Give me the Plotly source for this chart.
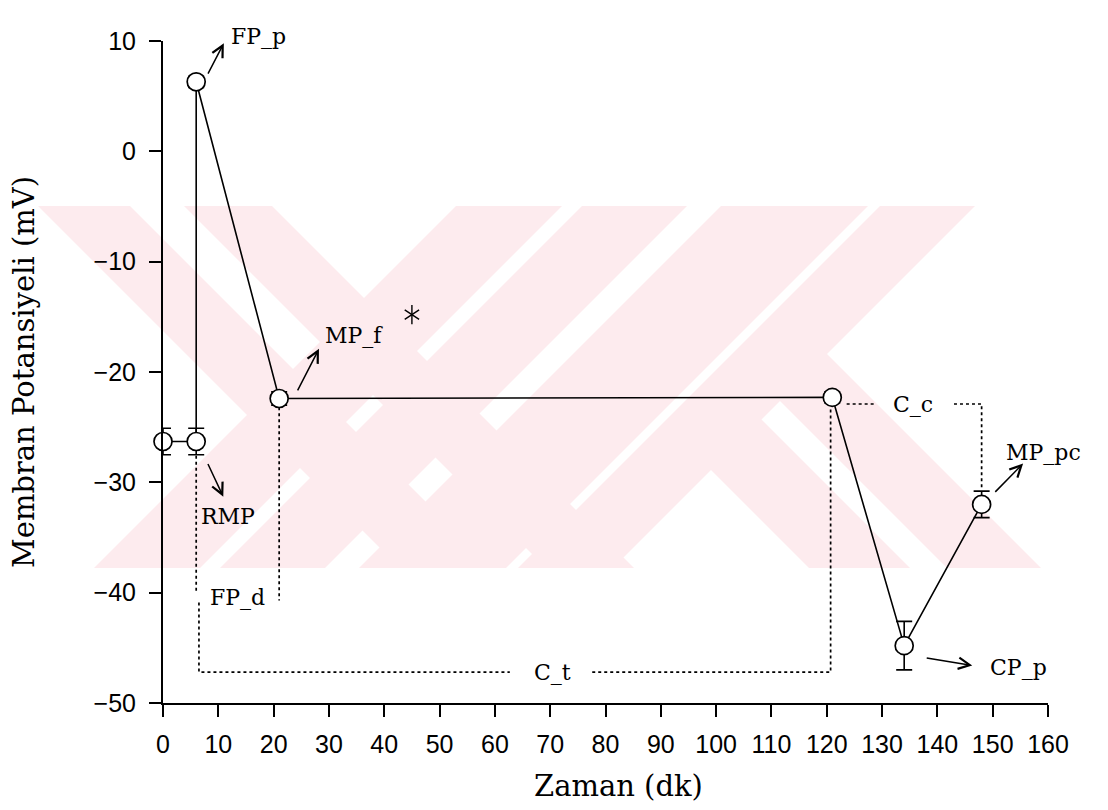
import plotly.graph_objects as go

# ---------------- data ----------------
time_min = [0, 6, 6, 21, 121, 134, 148]
potential_mv = [-26.3, -26.3, 6.3, -22.4, -22.3, -44.8, -32.0]
error_mv = [1.2, 1.2, 0.5, 0.6, 0.5, 2.2, 1.2]

x_ticks = list(range(0, 161, 10))
y_ticks = list(range(-50, 11, 10))

x_title = "Zaman (dk)"
y_title = "Membran Potansiyeli (mV)"

# bracket (dotted) levels
fpd_bottom = -40.0        # end of FP_d bracket legs
ct_level = -47.2          # C_t bracket horizontal level
cc_level = -22.9          # C_c bracket horizontal level
ct_gap = [62.7, 77.6]     # gap left for the "C_t" label
cc_gap = [129.0, 143.0]   # gap left for the "C_c" label

star_x = [45.0]
star_y = [-14.8]

# label texts and positions (data units)
labels = [
    ("RMP", 11.8, -33.1),
    ("MP_f", 34.5, -16.7),
    ("MP_pc", 159.1, -27.3),
    ("CP_p", 154.6, -46.8),
    ("C_t", 70.5, -47.2),
    ("C_c", 135.6, -22.9),
    ("FP_d", 13.4, -40.4),
]
# label above the plotting area (x in data units, y in paper units)
top_label = ("FP_p", 17.2, 1.029)

# arrows: (tail_x, tail_y, head_x, head_y)
arrows = [
    (8.0, 6.9, 11.0, 9.8),
    (8.0, -28.2, 10.9, -31.3),
    (24.2, -21.8, 28.2, -17.9),
    (150.2, -31.0, 155.5, -28.3),
    (137.8, -45.9, 146.3, -46.6),
]

# ---------------- figure ----------------
L, R, T, B = 163, 60, 41, 107
W, H = 1108, 810
PW, PH = W - L - R, H - T - B

fig = go.Figure()

# dotted brackets built from the data points
x_rmp, x_mpf, x_end, x_mppc = time_min[1], time_min[3], time_min[4], time_min[6]
y_rmp, y_mpf, y_end, y_mppc = potential_mv[1], potential_mv[3], potential_mv[4], potential_mv[6]
dot_x = [x_rmp, x_rmp, None,
         x_rmp + 0.5, x_rmp + 0.5, ct_gap[0], None,
         ct_gap[1], x_end - 0.3, x_end - 0.3, None,
         x_mpf, x_mpf, None,
         x_end + 2.6, cc_gap[0], None,
         cc_gap[1], x_mppc, x_mppc]
dot_y = [y_rmp - error_mv[1] - 0.1, fpd_bottom, None,
         fpd_bottom - 0.9, ct_level, ct_level, None,
         ct_level, ct_level, y_end - 0.9, None,
         y_mpf - 0.8, fpd_bottom - 0.7, None,
         cc_level, cc_level, None,
         cc_level, cc_level, y_mppc + error_mv[6] + 0.1]
fig.add_trace(go.Scatter(x=dot_x, y=dot_y, mode="lines",
                         line=dict(color="black", width=1.7, dash="dot"),
                         hoverinfo="skip", showlegend=False, cliponaxis=False))

fig.add_trace(go.Scatter(
    x=time_min, y=potential_mv, mode="lines+markers",
    line=dict(color="black", width=1.6),
    marker=dict(symbol="circle", size=18, color="white",
                line=dict(color="black", width=1.7)),
    error_y=dict(type="data", array=error_mv, visible=True,
                 color="black", thickness=1.6, width=8),
    cliponaxis=False, showlegend=False))

for sym in ["y-up-open", "y-down-open"]:
    fig.add_trace(go.Scatter(x=star_x, y=star_y, mode="markers",
                             marker=dict(symbol=sym, size=12, color="black",
                                         line=dict(color="black", width=1.4)),
                             showlegend=False, hoverinfo="skip"))

label_font = dict(family="DejaVu Serif", size=22, color="black")
title_font = dict(family="DejaVu Serif", size=29, color="black")
annotations = []
for txt, lx, ly in labels:
    annotations.append(dict(x=lx, y=ly, xref="x", yref="y", text=txt,
                            showarrow=False, font=label_font))
annotations.append(dict(x=top_label[1], y=top_label[2], xref="x", yref="paper",
                        text=top_label[0], showarrow=False, font=label_font))
for tx, ty, hx, hy in arrows:
    annotations.append(dict(x=hx, y=hy, xref="x", yref="y",
                            ax=tx, ay=ty, axref="x", ayref="y",
                            text="", showarrow=True, arrowhead=5,
                            arrowsize=1.5, arrowwidth=1.5, arrowcolor="black",
                            standoff=0, startstandoff=0))
# x-axis title (placed slightly right of centre, as in the original)
annotations.append(dict(x=0.515, y=-0.125, xref="paper", yref="paper",
                        text=x_title, showarrow=False, font=title_font,
                        xanchor="center", yanchor="middle"))

# ---------------- watermark (decorative) ----------------
def px2paper(px, py):
    return (px - L) / PW, (H - B - py) / PH

top_y, bot_y = 206, 568
hh = bot_y - top_y
pink = "#fdebee"
back_bands = [(38, 130), (184, 272)]                              # "\" full height
fwd_bands = [(456, 562), (582, 687), (721, 868), (880, 975)]      # "/" full height
anchor_edge = 975 + top_y   # right edge of last "/" band: x = anchor_edge - y
partial_back = [(241, 342), (379, 473)]                           # "\" bands x = y+p .. y+q

shapes = []
def poly(pts):
    pp = [px2paper(a, b) for a, b in pts]
    path = "M " + " L ".join(f"{x:.5f},{y:.5f}" for x, y in pp) + " Z"
    shapes.append(dict(type="path", path=path, xref="paper", yref="paper",
                       fillcolor=pink, line=dict(width=0), layer="below"))

for a, b in back_bands:
    poly([(a, top_y), (b, top_y), (b + hh, bot_y), (a + hh, bot_y)])
for a, b in fwd_bands:
    poly([(a, top_y), (b, top_y), (b - hh, bot_y), (a - hh, bot_y)])
for p, q in partial_back:
    y1 = (anchor_edge - p) / 2 - 3
    y2 = (anchor_edge - q) / 2 - 3
    poly([(y2 + q, y2), (bot_y + q, bot_y), (bot_y + p, bot_y), (y1 + p, y1)])

tick_font = dict(family="Liberation Sans", size=25, color="black")

fig.update_layout(
    width=W, height=H,
    margin=dict(l=L, r=R, t=T, b=B, pad=0),
    paper_bgcolor="white", plot_bgcolor="rgba(0,0,0,0)",
    showlegend=False,
    annotations=annotations, shapes=shapes,
    xaxis=dict(range=[0, 160], tickvals=x_ticks, ticks="outside", ticklen=12,
               tickwidth=1.5, tickcolor="black", showline=True, linewidth=2,
               linecolor="black", showgrid=False, zeroline=False,
               tickfont=tick_font, ticklabelstandoff=6,
               layer="above traces"),
    yaxis=dict(range=[-50, 10], tickvals=y_ticks, ticks="outside", ticklen=12,
               tickwidth=1.5, tickcolor="black", showline=True, linewidth=2,
               linecolor="black", showgrid=False, zeroline=False,
               tickfont=tick_font, ticklabelstandoff=8,
               title=dict(text=y_title, font=title_font, standoff=50),
               layer="above traces"),
)

fig.write_html("out.html")
